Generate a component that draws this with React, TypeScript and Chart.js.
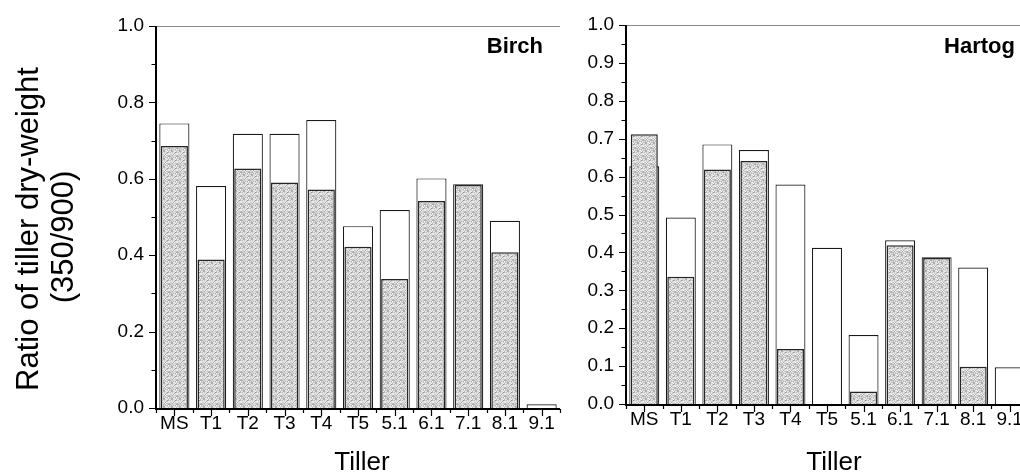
import React, { useEffect, useRef } from 'react';
import { Chart, registerables } from 'chart.js';

Chart.register(...registerables);

// ---- data ----
const tillers = ['MS', 'T1', 'T2', 'T3', 'T4', 'T5', '5.1', '6.1', '7.1', '8.1', '9.1'];

const birchOpen = [0.745, 0.581, 0.718, 0.718, 0.754, 0.476, 0.518, 0.601, 0.586, 0.49, 0.01];
const birchFilled = [0.686, 0.389, 0.627, 0.59, 0.572, 0.422, 0.338, 0.542, 0.584, 0.408, null];

const hartogOpen = [0.627, 0.492, 0.685, 0.67, 0.579, 0.412, 0.182, 0.432, 0.387, 0.36, 0.097];
const hartogFilled = [0.712, 0.336, 0.619, 0.641, 0.145, null, 0.033, 0.419, 0.385, 0.098, null];

const birchYStep = 0.2;
const hartogYStep = 0.1;

const yTitleLines = ['Ratio of tiller dry-weight', '(350/900)'];
const xTitle = 'Tiller';

const FONT = "'Liberation Sans', Arial, Helvetica, sans-serif";

function makePattern(ctx: CanvasRenderingContext2D): CanvasPattern | string {
  const size = 8;
  const c = document.createElement('canvas');
  c.width = size;
  c.height = size;
  const g = c.getContext('2d');
  if (!g) return '#bbbbbb';
  for (let r = 0; r < size; r++) {
    for (let k = 0; k < size; k++) {
      const h = (r * 73 + k * 151 + r * k * 37 + 11) % 97;
      let v = 150 + Math.round((h / 96) * 95);
      if ((r + k) % 2 === 0) v = Math.min(245, v + 18);
      g.fillStyle = `rgb(${v},${v},${v})`;
      g.fillRect(k, r, 1, 1);
    }
  }
  return ctx.createPattern(c, 'repeat') || '#bbbbbb';
}

type PanelProps = {
  name: string;
  openValues: (number | null)[];
  filledValues: (number | null)[];
  yStep: number;
  canvasLeft: number;
  canvasWidth: number;
  padTop: number;
  padRight: number;
  yWidth: number;
  xHeight: number;
  nameDx: number;
  nameBaseline: number;
  titleDx: number;
  showYTitle: boolean;
};

function Panel(p: PanelProps) {
  const ref = useRef<HTMLCanvasElement>(null);

  useEffect(() => {
    const canvas = ref.current;
    if (!canvas) return;
    const ctx = canvas.getContext('2d');
    if (!ctx) return;
    const pattern = makePattern(ctx);

    const deco = {
      id: 'deco',
      afterDraw(chart: any) {
        const c = chart.ctx as CanvasRenderingContext2D;
        const { left, right, top, bottom } = chart.chartArea;
        const xs = chart.scales.x;
        const ys = chart.scales.y;
        c.save();
        // top frame line
        c.strokeStyle = '#8a8a8a';
        c.lineWidth = 1;
        c.beginPath();
        c.moveTo(left, top + 0.5);
        c.lineTo(right, top + 0.5);
        c.stroke();
        // axes
        c.strokeStyle = '#000';
        c.lineWidth = 2;
        c.beginPath();
        c.moveTo(left, top);
        c.lineTo(left, bottom + 1);
        c.lineTo(right, bottom + 1);
        c.stroke();
        // x ticks
        c.lineWidth = 1.2;
        c.beginPath();
        const n = tillers.length;
        for (let i = 0; i < n; i++) {
          const px = Math.round(xs.getPixelForValue(i)) + 0.5;
          c.moveTo(px, bottom + 1);
          c.lineTo(px, bottom + 8);
        }
        for (let i = 0; i <= n; i++) {
          const px = Math.round(xs.getPixelForValue(i - 0.5)) + 0.5;
          c.moveTo(px, bottom + 1);
          c.lineTo(px, bottom + 5);
        }
        // y ticks
        const minor = p.yStep / 2;
        const count = Math.round(1 / minor);
        for (let j = 0; j <= count; j++) {
          const v = j * minor;
          const py = Math.round(ys.getPixelForValue(v)) + 0.5;
          const len = j % 2 === 0 ? 6 : 3.5;
          c.moveTo(left - 1, py);
          c.lineTo(left - 1 - len, py);
        }
        c.stroke();

        // panel name
        c.fillStyle = '#000';
        c.font = `bold 22px ${FONT}`;
        c.textAlign = 'right';
        c.textBaseline = 'alphabetic';
        c.fillText(p.name, right - p.nameDx, p.nameBaseline);

        // x title
        c.font = `26px ${FONT}`;
        c.textAlign = 'center';
        c.fillText(xTitle, (left + right) / 2 + p.titleDx, 470);

        // y title
        if (p.showYTitle) {
          c.font = `31px ${FONT}`;
          c.save();
          c.translate(38, 229);
          c.rotate(-Math.PI / 2);
          c.fillText(yTitleLines[0], 0, 0);
          c.restore();
          c.save();
          c.translate(73, 237);
          c.rotate(-Math.PI / 2);
          c.fillText(yTitleLines[1], 0, 0);
          c.restore();
        }
        c.restore();
      },
    };

    const chart = new Chart(canvas, {
      type: 'bar',
      data: {
        labels: tillers,
        datasets: [
          {
            label: 'filled',
            data: p.filledValues as any,
            backgroundColor: pattern as any,
            borderColor: '#262626',
            borderWidth: 1.5,
            barPercentage: 0.74,
            categoryPercentage: 1,
            grouped: false,
            order: 0,
          } as any,
          {
            label: 'open',
            data: p.openValues as any,
            backgroundColor: '#ffffff',
            borderColor: '#1a1a1a',
            borderWidth: 1.2,
            barPercentage: 0.82,
            categoryPercentage: 1,
            grouped: false,
            order: 1,
          } as any,
        ],
      },
      options: {
        animation: false,
        responsive: false,
        events: [],
        layout: { padding: { top: p.padTop, right: p.padRight, left: 0, bottom: 0 } },
        plugins: { legend: { display: false }, tooltip: { enabled: false } },
        scales: {
          x: {
            grid: { display: false, drawTicks: false },
            border: { display: false },
            ticks: {
              font: { family: FONT, size: 19 },
              color: '#000',
              padding: 4,
              maxRotation: 0,
              autoSkip: false,
            },
            afterFit: (s: any) => {
              s.height = p.xHeight;
            },
          },
          y: {
            min: 0,
            max: 1,
            grid: { display: false, drawTicks: false },
            border: { display: false },
            ticks: {
              stepSize: p.yStep,
              font: { family: FONT, size: 19 },
              color: '#000',
              padding: 12,
              callback: (v: any) => Number(v).toFixed(1),
            },
            afterFit: (s: any) => {
              s.width = p.yWidth;
            },
          },
        },
      },
      plugins: [deco],
    });
    return () => chart.destroy();
  }, []);

  return (
    <canvas
      ref={ref}
      width={p.canvasWidth}
      height={474}
      style={{ position: 'absolute', left: p.canvasLeft, top: 0, width: p.canvasWidth, height: 474 }}
    />
  );
}

export default function App() {
  return (
    <div
      style={{
        position: 'absolute',
        left: 0,
        top: 0,
        width: 1020,
        height: 474,
        overflow: 'hidden',
        background: '#fff',
      }}
    >
      <Panel
        name="Birch"
        openValues={birchOpen}
        filledValues={birchFilled}
        yStep={birchYStep}
        canvasLeft={0}
        canvasWidth={562}
        padTop={26}
        padRight={2}
        yWidth={156}
        xHeight={66}
        nameDx={17}
        nameBaseline={53}
        titleDx={4}
        showYTitle={true}
      />
      <Panel
        name="Hartog"
        openValues={hartogOpen}
        filledValues={hartogFilled}
        yStep={hartogYStep}
        canvasLeft={562}
        canvasWidth={480}
        padTop={25}
        padRight={14}
        yWidth={64}
        xHeight={70}
        nameDx={13}
        nameBaseline={53}
        titleDx={7}
        showYTitle={false}
      />
    </div>
  );
}
